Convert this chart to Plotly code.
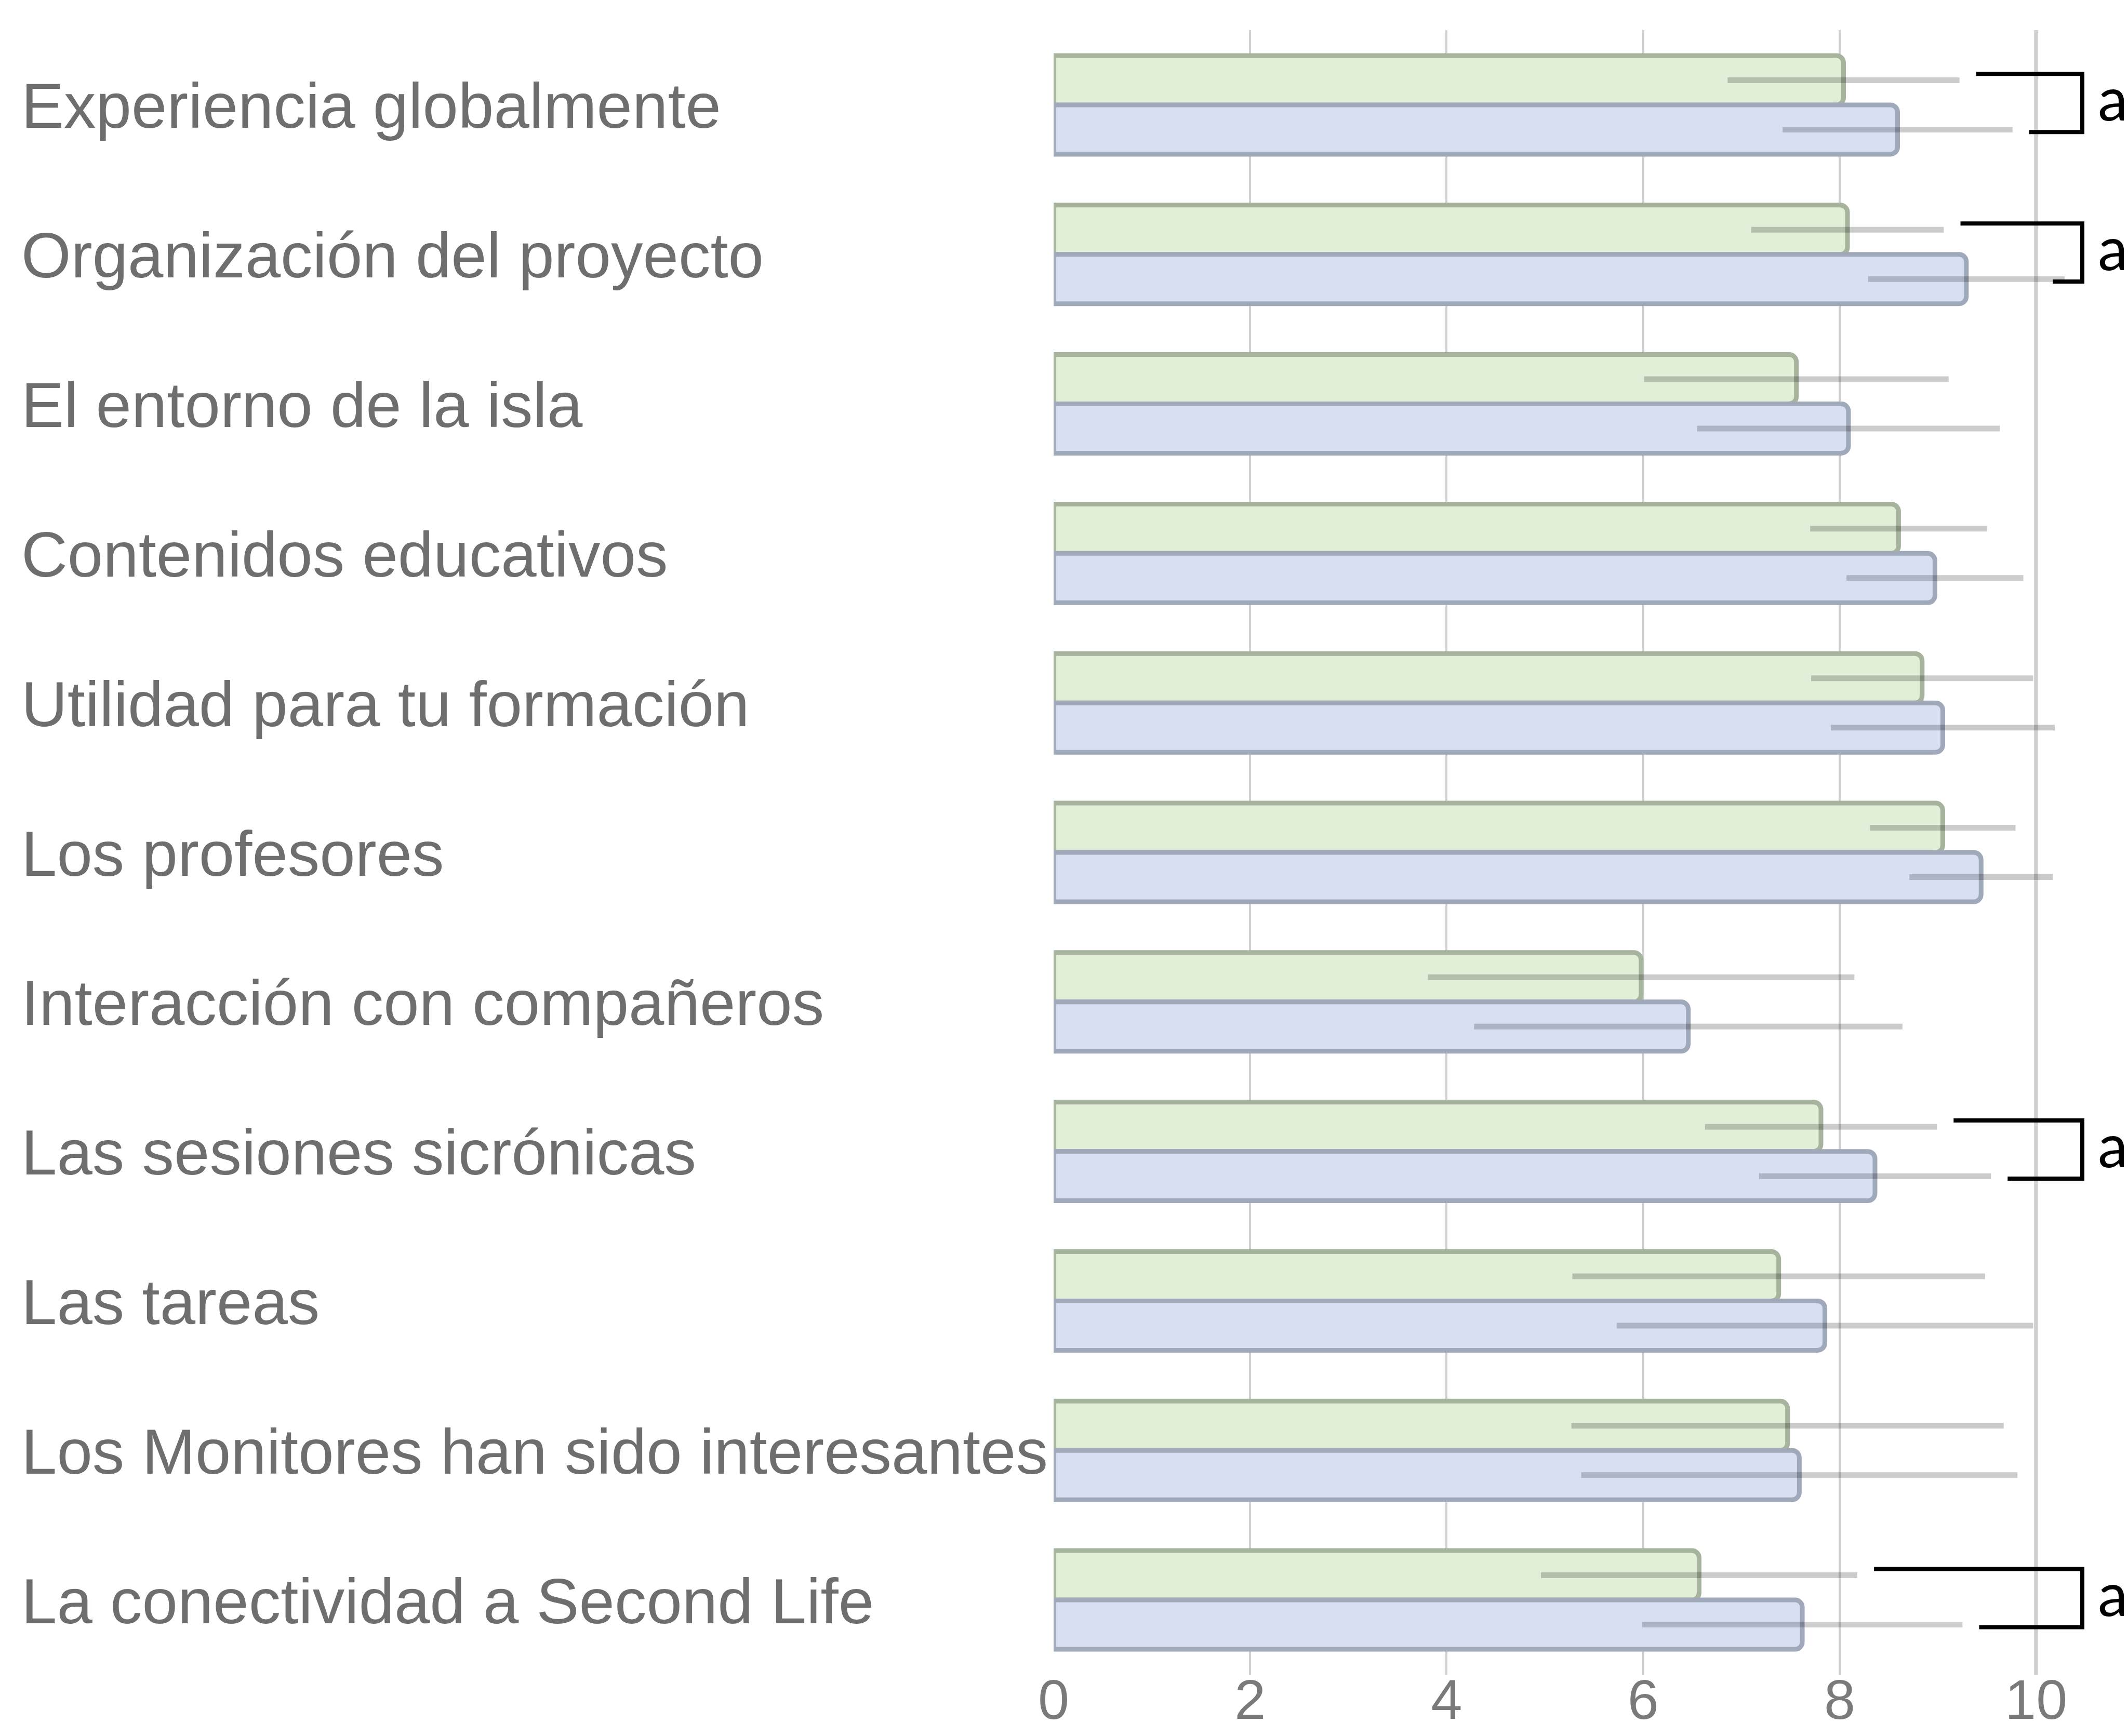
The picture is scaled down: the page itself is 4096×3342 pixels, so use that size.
import plotly.graph_objects as go

# Survey items (top to bottom)
items = [
    "Experiencia globalmente",
    "Organización del proyecto",
    "El entorno de la isla",
    "Contenidos educativos",
    "Utilidad para tu formación",
    "Los profesores",
    "Interacción con compañeros",
    "Las sesiones sicrónicas",
    "Las tareas",
    "Los Monitores han sido interesantes",
    "La conectividad a Second Life",
]

# Mean score and standard deviation, first group (green)
mean_a = [8.04, 8.08, 7.56, 8.60, 8.84, 9.05, 5.98, 7.81, 7.38, 7.47, 6.57]
sd_a = [1.18, 0.98, 1.55, 0.90, 1.13, 0.74, 2.17, 1.18, 2.10, 2.20, 1.61]

# Mean score and standard deviation, second group (blue)
mean_b = [8.59, 9.29, 8.09, 8.97, 9.05, 9.44, 6.46, 8.36, 7.85, 7.59, 7.62]
sd_b = [1.17, 1.00, 1.54, 0.90, 1.14, 0.73, 2.18, 1.18, 2.12, 2.22, 1.63]

# Items where the two groups differ significantly (bracket + letter)
sig_items = [
    "Experiencia globalmente",
    "Organización del proyecto",
    "Las sesiones sicrónicas",
    "La conectividad a Second Life",
]
sig_letter = "a"

x_ticks = [0, 2, 4, 6, 8, 10]

W, H = 4096, 3342
M_L, M_R, M_T, M_B = 2028, 35, 58, 118
X_MAX = 10.75

fig = go.Figure()

err_style = dict(type="data", color="rgba(0,0,0,0.2)", thickness=11, width=0)

fig.add_trace(go.Bar(
    y=items, x=mean_a, orientation="h", name="Grupo A",
    error_x=dict(array=sd_a, **err_style),
    marker=dict(color="#e1eed8", line=dict(color="#a6b49d", width=9), cornerradius=14),
))
fig.add_trace(go.Bar(
    y=items, x=mean_b, orientation="h", name="Grupo B",
    error_x=dict(array=sd_b, **err_style),
    marker=dict(color="#d7e0f3", line=dict(color="#a0a9ba", width=9), cornerradius=14),
))

# Item labels, left aligned at the page edge
plot_w = W - M_L - M_R
label_x = (39 - M_L) / plot_w
annotations = []
for name in items:
    annotations.append(dict(
        x=label_x, xref="paper", xanchor="left",
        y=name, yref="y", yanchor="middle", yshift=-2,
        text=name, showarrow=False,
        font=dict(family="Liberation Sans, Arial, sans-serif", size=123, color="#6e6e6e"),
    ))

# Significance brackets
shapes = []
bracket_x = 10.47
top_dy, bot_dy = -0.207, 0.182
for name in sig_items:
    i = items.index(name)
    xa = min(mean_a[i] + sd_a[i] + 0.17, bracket_x - 0.3)
    xb = min(mean_b[i] + sd_b[i] + 0.17, bracket_x - 0.3)
    ya, yb = i + top_dy, i + bot_dy
    shapes.append(dict(
        type="path", xref="x", yref="y",
        path=f"M {xa},{ya} L {bracket_x},{ya} L {bracket_x},{yb} L {xb},{yb}",
        line=dict(color="#000000", width=8),
    ))
    annotations.append(dict(
        x=10.62, xref="x", xanchor="left",
        y=name, yref="y", yanchor="middle", yshift=14,
        text=sig_letter, showarrow=False,
        font=dict(family="Lato, Open Sans, sans-serif", size=116, color="#000000"),
    ))

# Right-hand frame line at the last tick
shapes.append(dict(
    type="line", xref="x", yref="paper",
    x0=x_ticks[-1], x1=x_ticks[-1], y0=0, y1=1,
    line=dict(color="#d2d2d2", width=8), layer="below",
))

fig.update_layout(
    width=W, height=H,
    margin=dict(l=M_L, r=M_R, t=M_T, b=M_B, pad=0, autoexpand=False),
    paper_bgcolor="white", plot_bgcolor="white",
    barmode="group", bargap=0.34, bargroupgap=0,
    showlegend=False,
    annotations=annotations, shapes=shapes,
    xaxis=dict(
        range=[0, X_MAX], tickvals=x_ticks, ticktext=[str(t) for t in x_ticks],
        showgrid=True, gridcolor="#d0d0d0", gridwidth=4,
        zeroline=False, showline=False, ticks="", automargin=False,
        ticklabelstandoff=-24,
        tickfont=dict(family="Liberation Sans, Arial, sans-serif", size=108, color="#7a7a7a"),
    ),
    yaxis=dict(
        type="category", categoryorder="array", categoryarray=items,
        range=[len(items) - 0.5, -0.5], automargin=False,
        showticklabels=False, showgrid=False, zeroline=False, showline=False, ticks="",
    ),
)

fig.write_html("out.html")
